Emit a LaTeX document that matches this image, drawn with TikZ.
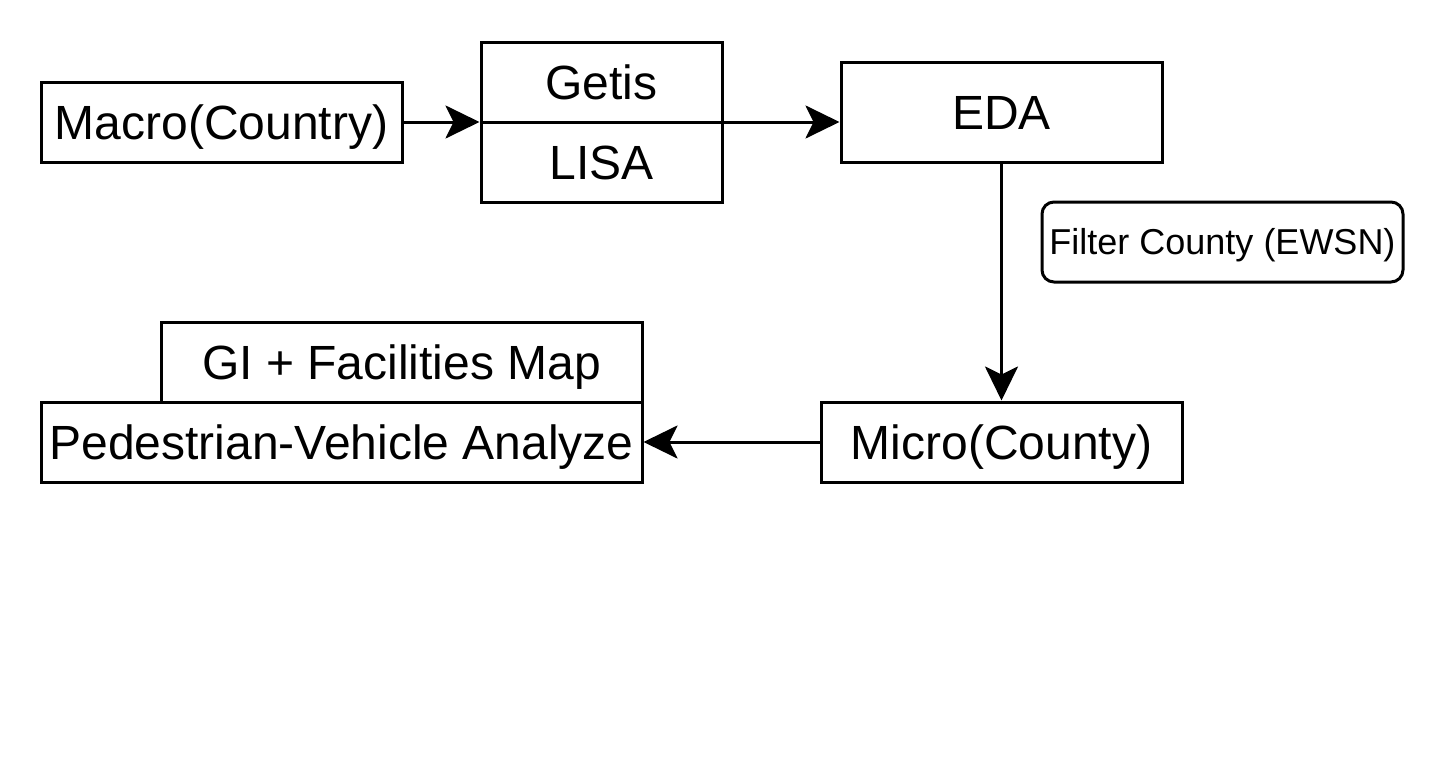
\documentclass[tikz,border=0pt]{standalone}
\usepackage{fontspec}
\setmainfont{Liberation Sans}
\usetikzlibrary{arrows.meta}
\begin{document}
\begin{tikzpicture}[x=0.5pt,y=-0.5pt,
  box/.style={draw,line width=1.5pt,inner sep=0pt,text height=17.2pt,text depth=0pt,font=\fontsize{24}{28}\selectfont},
  smallbox/.style={box,rounded corners=6pt,text height=12.9pt,font=\fontsize{18}{22}\selectfont},
  arr/.style={line width=1.5pt,-{Stealth[length=17pt,width=16.5pt,inset=4pt]}}]
\useasboundingbox (0,0) rectangle (1448,760);
\node[box,minimum width=180.5pt,minimum height=40pt] (macro) at (221.5,122) {Macro(Country)};
\node[box,minimum width=120.5pt,minimum height=40pt] (getis) at (601.5,82) {Getis};
\node[box,minimum width=120.5pt,minimum height=40pt] (lisa) at (601.5,162) {LISA};
\node[box,minimum width=160.5pt,minimum height=50pt] (eda) at (1001.5,112) {EDA};
\node[smallbox,minimum width=180.5pt,minimum height=40pt] (filter) at (1222.5,242) {Filter County (EWSN)};
\node[box,minimum width=240.5pt,minimum height=40pt] (gi) at (401.5,362) {GI + Facilities Map};
\node[box,minimum width=300.5pt,minimum height=40pt] (ped) at (341.5,442) {Pedestrian-Vehicle Analyze};
\node[box,minimum width=180.5pt,minimum height=40pt] (micro) at (1001.5,442) {Micro(County)};
\draw[arr] (macro.east) -- (macro.east -| getis.west);
\draw[arr] (getis.east |- macro.east) -- (eda.west |- macro.east);
\draw[arr] (eda.south) -- (micro.north);
\draw[arr] (micro.west) -- (ped.east);
\end{tikzpicture}
\end{document}
